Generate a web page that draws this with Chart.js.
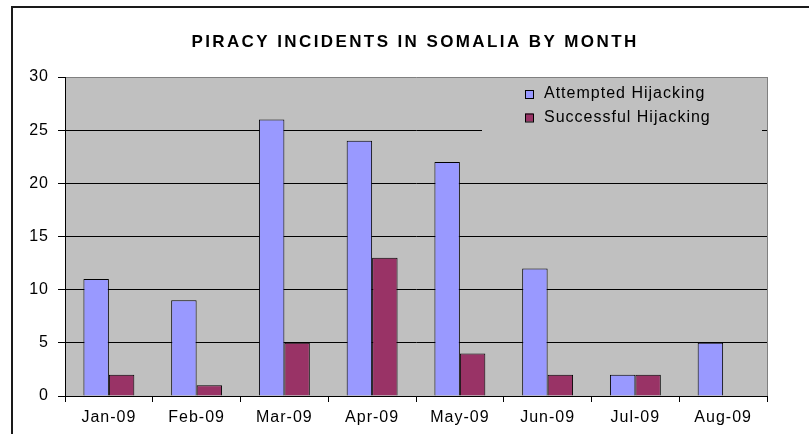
<!DOCTYPE html>
<html>
<head>
<meta charset="utf-8">
<script src="https://cdn.jsdelivr.net/npm/chart.js@4.4.0/dist/chart.umd.min.js"></script>
<style>
  html, body { margin: 0; padding: 0; background: #fff; }
  #wrap { width: 809px; height: 434px; }
</style>
</head>
<body>
<div id="wrap"><canvas id="bar-chart" width="809" height="434"></canvas></div>
<script>
var months = ['Jan-09', 'Feb-09', 'Mar-09', 'Apr-09', 'May-09', 'Jun-09', 'Jul-09', 'Aug-09'];
var attempted = [11, 9, 26, 24, 22, 12, 2, 5];
var successful = [2, 1, 5, 13, 4, 2, 2, 0];
var yTicks = [0, 5, 10, 15, 20, 25, 30];
var chartTitle = 'PIRACY INCIDENTS IN SOMALIA BY MONTH';

var FONT = '"Liberation Sans", Arial, sans-serif';

// excel style frame, gray plot area, title and the legend inside the plot
var excelLook = {
    id: 'excelLook',
    beforeDraw: function (chart) {
        var ctx = chart.ctx, a = chart.chartArea;
        ctx.letterSpacing = '1px';
        ctx.save();
        ctx.fillStyle = '#C0C0C0';
        ctx.fillRect(a.left, a.top, a.right - a.left, a.bottom - a.top);
        // outer chart border
        ctx.strokeStyle = '#1a1a1a';
        ctx.lineWidth = 2;
        ctx.beginPath();
        ctx.moveTo(12, 440);
        ctx.lineTo(12, 7);
        ctx.lineTo(812, 7);
        ctx.stroke();
        // title
        ctx.letterSpacing = '2.4px';
        ctx.fillStyle = '#000';
        ctx.font = 'bold 17px ' + FONT;
        ctx.textAlign = 'center';
        ctx.textBaseline = 'alphabetic';
        ctx.fillText(chartTitle, (a.left + a.right) / 2 - 1, 47);
        ctx.restore();
    },
    afterDatasetsDraw: function (chart) {
        var ctx = chart.ctx, a = chart.chartArea;
        ctx.save();
        // plot area right border
        ctx.strokeStyle = '#808080';
        ctx.lineWidth = 1;
        ctx.beginPath();
        ctx.moveTo(a.right + 0.5, a.top);
        ctx.lineTo(a.right + 0.5, a.bottom);
        ctx.stroke();
        // legend
        var lx = 482, ly = 80;
        ctx.fillStyle = '#C0C0C0';
        ctx.fillRect(lx, ly, 280, 56);
        ctx.font = '16px ' + FONT;
        ctx.letterSpacing = '1px';
        ctx.textBaseline = 'middle';
        ctx.textAlign = 'left';
        chart.data.datasets.forEach(function (ds, i) {
            var y = 94 + i * 23.5;
            ctx.fillStyle = ds.backgroundColor;
            ctx.fillRect(525, y - 4, 8, 8);
            ctx.strokeStyle = '#000';
            ctx.strokeRect(525.5, y - 3.5, 8, 8);
            ctx.fillStyle = '#000';
            ctx.fillText(ds.label, 544, y);
        });
        ctx.restore();
    }
};

var barContext = document.getElementById('bar-chart').getContext('2d');
window.myBar = new Chart(barContext, {
    type: 'bar',
    data: {
        labels: months,
        datasets: [{
            label: 'Attempted Hijacking',
            data: attempted,
            backgroundColor: '#9999FF',
            borderColor: '#000',
            borderWidth: 1
        }, {
            label: 'Successful Hijacking',
            data: successful,
            backgroundColor: '#993366',
            borderColor: '#000',
            borderWidth: 1
        }]
    },
    options: {
        responsive: false,
        animation: false,
        devicePixelRatio: 1,
        layout: { padding: { left: 0, right: 42, top: 77, bottom: 0 } },
        datasets: { bar: { categoryPercentage: 0.58, barPercentage: 1.0 } },
        plugins: {
            legend: { display: false },
            title: { display: false },
            tooltip: { enabled: false }
        },
        scales: {
            x: {
                grid: { offset: true, drawOnChartArea: false, color: '#000', tickLength: 6 },
                border: { color: '#000', width: 1 },
                ticks: { color: '#000', font: { family: FONT, size: 16 }, padding: 6, maxRotation: 0 },
                afterFit: function (s) { s.height = 38; }
            },
            y: {
                min: 0,
                max: 30,
                afterBuildTicks: function (s) { s.ticks = yTicks.map(function (v) { return { value: v }; }); },
                grid: {
                    color: function (c) { return c.tick && c.tick.value === 30 ? '#808080' : '#000'; },
                    tickColor: '#000',
                    tickLength: 7
                },
                border: { color: '#000', width: 1 },
                ticks: { color: '#000', font: { family: FONT, size: 16 }, padding: 9 },
                afterFit: function (s) { s.width = 65; }
            }
        }
    },
    plugins: [excelLook]
});
</script>
</body>
</html>
